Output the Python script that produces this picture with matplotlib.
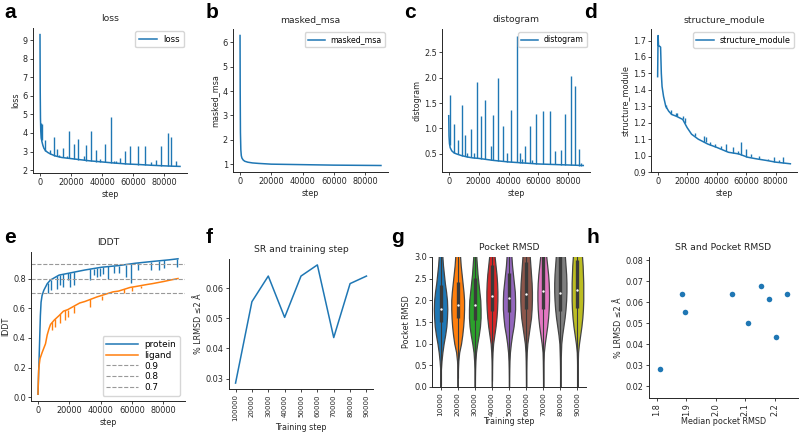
import matplotlib
matplotlib.use("Agg")
import matplotlib.pyplot as plt
import numpy as np

BLUE = "#1f77b4"
ORANGE = "#ff7f0e"
TXT = "#262626"

# ---------------- data ----------------
# a: loss
loss_steps = [0, 150, 300, 500, 800, 1200, 1800, 2500, 3500, 5000, 7000, 10000, 14000,
              20000, 26000, 32000, 40000, 48000, 56000, 64000, 72000, 80000, 86000, 90000]
loss_vals = [9.3, 6.2, 4.8, 4.1, 3.75, 3.55, 3.35, 3.18, 3.05, 2.95, 2.86, 2.76, 2.68,
             2.62, 2.56, 2.5, 2.44, 2.38, 2.33, 2.3, 2.26, 2.23, 2.21, 2.2]
# (step, floor, peak)
loss_spikes = [(800, 3.7, 4.55), (1100, 3.6, 4.5), (3300, 3.05, 3.6), (6400, 2.88, 3.10),
               (9100, 2.78, 3.78), (11000, 2.75, 3.14), (12500, 2.72, 2.8), (14700, 2.68, 3.21),
               (17200, 2.64, 2.78), (18800, 2.63, 4.11), (21900, 2.6, 3.42), (24500, 2.57, 3.70),
               (28000, 2.53, 2.78), (29700, 2.51, 3.37), (32800, 2.49, 4.09), (36100, 2.46, 3.10),
               (38800, 2.45, 2.60), (41800, 2.42, 3.42), (45400, 2.40, 4.87), (47800, 2.38, 2.50),
               (48900, 2.37, 2.47), (51300, 2.36, 2.66), (54400, 2.34, 3.03), (58100, 2.32, 3.28),
               (63300, 2.30, 3.31), (67800, 2.28, 3.31), (71100, 2.26, 2.43), (74800, 2.25, 2.53),
               (77900, 2.24, 3.28), (82000, 2.23, 3.99), (84300, 2.22, 3.78), (87400, 2.21, 2.50)]

# b: masked_msa
msa_steps = [0, 100, 250, 500, 800, 1200, 2000, 3000, 5000, 8000, 12000, 20000, 30000,
             40000, 50000, 60000, 70000, 80000, 90000]
msa_vals = [6.28, 4.0, 2.3, 1.6, 1.35, 1.25, 1.17, 1.12, 1.08, 1.05, 1.03, 1.0, 0.99,
            0.98, 0.97, 0.96, 0.955, 0.95, 0.945]

# c: distogram
dist_steps = [0, 200, 500, 1000, 2000, 3500, 5000, 8000, 12000, 16000, 20000, 30000, 40000,
              50000, 60000, 70000, 80000, 90000]
dist_vals = [1.25, 0.85, 0.7, 0.62, 0.56, 0.52, 0.5, 0.47, 0.44, 0.42, 0.41, 0.37, 0.34,
             0.32, 0.30, 0.29, 0.28, 0.27]
dist_spikes = [(700, 0.68, 1.65), (3300, 0.52, 1.09), (6400, 0.49, 0.77), (9100, 0.46, 1.46),
               (11000, 0.45, 0.88), (12500, 0.44, 0.51), (14700, 0.43, 0.98), (17200, 0.42, 0.52),
               (18800, 0.41, 1.91), (21900, 0.40, 1.25), (24500, 0.39, 1.56), (28000, 0.38, 0.65),
               (29700, 0.37, 1.26), (32800, 0.36, 1.99), (36100, 0.35, 1.05), (38800, 0.345, 0.52),
               (41800, 0.34, 1.37), (45400, 0.33, 2.83), (47800, 0.32, 0.51), (48900, 0.32, 0.40),
               (51300, 0.32, 0.65), (54400, 0.31, 1.05), (55500, 0.31, 0.38), (58100, 0.30, 1.29),
               (63300, 0.30, 1.34), (67800, 0.29, 1.34), (71100, 0.29, 0.56), (74800, 0.285, 0.57),
               (77900, 0.28, 1.29), (82000, 0.28, 2.03), (84300, 0.275, 1.84), (87400, 0.27, 0.6),
               (88200, 0.27, 0.32)]

# d: structure_module
sm_steps = [0, 300, 600, 2000, 2500, 3000, 4000, 5500, 7500, 9500, 12500, 17000, 20000, 23000,
            27500, 34000, 40000, 48000, 55000, 61000, 67000, 74000, 80000, 85000, 90000]
sm_vals = [1.48, 1.73, 1.67, 1.66, 1.50, 1.42, 1.36, 1.30, 1.27, 1.25, 1.24, 1.22, 1.17, 1.13,
           1.10, 1.07, 1.05, 1.02, 1.01, 0.99, 0.98, 0.97, 0.96, 0.955, 0.95]
sm_spikes = [(6000, 1.29, 1.31), (9100, 1.25, 1.28), (12300, 1.24, 1.26), (13200, 1.24, 1.26),
             (17000, 1.22, 1.24), (18600, 1.20, 1.23), (25300, 1.12, 1.14), (31300, 1.08, 1.12),
             (32700, 1.08, 1.11), (35800, 1.065, 1.08), (39000, 1.05, 1.07), (43200, 1.04, 1.06),
             (46400, 1.03, 1.07), (51200, 1.015, 1.05), (54700, 1.01, 1.03), (56200, 1.005, 1.08),
             (60000, 0.99, 1.04), (63200, 0.99, 1.01), (68400, 0.98, 1.0), (74700, 0.97, 0.98),
             (78900, 0.96, 0.99), (82000, 0.96, 0.97), (85200, 0.955, 0.99)]

# e: lDDT
prot_steps = [0, 870, 1520, 1960, 2600, 3700, 5900, 8000, 13500, 18900, 29800, 40700, 51500,
              62400, 73300, 84100, 89600]
prot_vals = [0.02, 0.32, 0.55, 0.64, 0.685, 0.72, 0.765, 0.79, 0.823, 0.834, 0.857, 0.876,
             0.887, 0.903, 0.915, 0.926, 0.933]
prot_spikes = [(6300, 0.77, 0.70), (8000, 0.79, 0.72), (12000, 0.82, 0.73), (14100, 0.825, 0.754),
               (16300, 0.83, 0.74), (19300, 0.834, 0.79), (20700, 0.836, 0.74), (23300, 0.845, 0.755),
               (33300, 0.863, 0.79), (35900, 0.867, 0.825), (37600, 0.87, 0.81), (39600, 0.874, 0.82),
               (41700, 0.877, 0.83), (45000, 0.881, 0.80), (48900, 0.884, 0.84), (51900, 0.887, 0.84),
               (56300, 0.894, 0.81), (59800, 0.9, 0.77), (64100, 0.905, 0.855), (72200, 0.914, 0.86),
               (77200, 0.919, 0.86), (80900, 0.922, 0.87), (88900, 0.932, 0.875)]
lig_steps = [0, 400, 800, 1300, 2600, 4800, 5900, 7000, 8000, 10400, 13500, 16300, 19000, 26700,
             30000, 37500, 40500, 48000, 51500, 59000, 62000, 70000, 73000, 80500, 84000, 89600]
lig_vals = [0.02, 0.18, 0.22, 0.26, 0.30, 0.36, 0.42, 0.46, 0.49, 0.52, 0.55, 0.58, 0.59, 0.635,
            0.645, 0.675, 0.685, 0.71, 0.715, 0.74, 0.745, 0.76, 0.765, 0.78, 0.788, 0.80]
lig_spikes = [(9000, 0.51, 0.45), (11000, 0.53, 0.47), (14000, 0.56, 0.50), (17500, 0.585, 0.52),
              (19500, 0.59, 0.54), (23000, 0.615, 0.57), (33500, 0.66, 0.61), (41000, 0.685, 0.655),
              (55000, 0.73, 0.70), (60000, 0.742, 0.715), (66000, 0.752, 0.735)]
lddt_refs = [0.9, 0.8, 0.7]

# f / g / h
train_labels = ["100000", "20000", "30000", "40000", "50000", "60000", "70000", "80000", "90000"]
step_labels = ["10000", "20000", "30000", "40000", "50000", "60000", "70000", "80000", "90000"]
success_rate = [0.0285, 0.0555, 0.064, 0.0503, 0.064, 0.0677, 0.0436, 0.0615, 0.064]
median_rmsd = [1.81, 1.895, 1.885, 2.11, 2.055, 2.155, 2.205, 2.18, 2.24]
q1_rmsd = [1.5, 1.6, 1.55, 1.75, 1.73, 1.8, 1.8, 1.75, 1.83]
q3_rmsd = [2.35, 2.42, 2.52, 2.82, 2.63, 2.88, 3.1, 3.1, 2.92]
whisk_lo = [0.05, 0.2, 0.0, 0.15, 0.0, 0.0, 0.0, 0.0, 0.0]
whisk_hi = [3.6, 3.6, 3.6, 3.6, 3.6, 3.6, 3.6, 3.6, 3.6]
violin_levels = [0, 0.2, 0.4, 0.6, 0.8, 1.0, 1.2, 1.4, 1.6, 1.8, 2.0, 2.2, 2.4, 2.6, 2.8, 3.0, 3.2]
violin_profiles = [
    [0.3, 0.5, 1, 3, 6, 10, 15, 19, 21, 22, 21, 18, 14, 11, 8, 6, 4],
    [0.0, 0.3, 0.8, 2, 5, 11, 15, 18, 20, 21, 21, 19, 16, 13, 10, 8, 6],
    [0.3, 0.5, 1, 2, 4, 8, 13, 17, 19, 19, 18, 15, 12, 9, 7, 5, 3],
    [0.0, 0.3, 0.6, 1, 2, 4, 8, 12, 15, 17, 18, 18, 17, 15, 12, 9, 7],
    [0.3, 0.5, 0.8, 1.5, 3, 6, 10, 15, 18, 20, 20, 19, 16, 13, 10, 8, 6],
    [0.3, 0.5, 0.8, 1.2, 2, 4, 8, 12, 16, 18, 19, 19, 18, 16, 14, 12, 10],
    [0.3, 0.5, 0.8, 1.2, 2, 5, 9, 13, 16, 18, 19, 19, 18, 16, 13, 10, 8],
    [0.3, 0.5, 0.8, 1.2, 2, 3, 6, 10, 14, 17, 19, 20, 20, 19, 17, 15, 13],
    [0.3, 0.5, 0.8, 1.2, 2, 5, 9, 13, 16, 18, 19, 19, 19, 18, 17, 15, 13],
]
violin_colors = ["#1f77b4", "#ff7f0e", "#2ca02c", "#d62728", "#9467bd",
                 "#8c564b", "#e377c2", "#7f7f7f", "#bcbd22"]

# ---------------- figure ----------------
W, H = 800, 433
fig = plt.figure(figsize=(W / 100, H / 100), dpi=100)
plt.rcParams["font.family"] = ["DejaVu Sans"]


def axpx(x0, y0, x1, y1):
    return fig.add_axes([x0 / W, 1 - y1 / H, (x1 - x0) / W, (y1 - y0) / H])


def style(ax, tick=5.9):
    for s in ["top", "right"]:
        ax.spines[s].set_visible(False)
    for s in ["left", "bottom"]:
        ax.spines[s].set_linewidth(0.7)
        ax.spines[s].set_color(TXT)
    ax.tick_params(labelsize=tick, length=2.2, width=0.6, pad=1.5, colors=TXT)


def curve(ax, steps, vals, spikes, color, label, lw=1.1):
    ax.plot(steps, vals, color=color, lw=lw, label=label)
    if spikes:
        s, f, p = zip(*spikes)
        ax.vlines(s, f, p, color=color, lw=lw * 0.9)


def labels(ax, title, xl, yl, ts=6.7, ls=5.8, xpad=2):
    ax.set_title(title, fontsize=ts, color=TXT, pad=5)
    ax.set_xlabel(xl, fontsize=ls, color=TXT, labelpad=xpad)
    ax.set_ylabel(yl, fontsize=ls, color=TXT, labelpad=2)


def leg(ax, loc="upper right", fs=5.8, hl=2.2, ls=0.35, bap=0.4):
    ax.legend(loc=loc, fontsize=fs, handlelength=hl, borderpad=0.4, labelspacing=ls,
              handletextpad=0.7, borderaxespad=bap, framealpha=0.8)


xt = [0, 20000, 40000, 60000, 80000]

# a
ax = axpx(33, 28, 187, 173)
style(ax)
curve(ax, loss_steps, loss_vals, loss_spikes, BLUE, "loss")
ax.set_xticks(xt)
ax.set_yticks(range(2, 10))
labels(ax, "loss", "step", "loss")
leg(ax, fs=6.2)

# b
ax = axpx(233, 29, 388, 172)
style(ax)
curve(ax, msa_steps, msa_vals, None, BLUE, "masked_msa")
ax.set_xticks(xt)
labels(ax, "masked_msa", "step", "masked_msa")
leg(ax, fs=5.6)

# c
ax = axpx(442, 29, 590, 172)
style(ax)
curve(ax, dist_steps, dist_vals, dist_spikes, BLUE, "distogram")
ax.set_xticks(xt)
ax.set_yticks([0.5, 1.0, 1.5, 2.0, 2.5])
labels(ax, "distogram", "step", "distogram")
leg(ax, fs=5.6)

# d
ax = axpx(651, 29, 797, 172)
style(ax)
curve(ax, sm_steps, sm_vals, sm_spikes, BLUE, "structure_module")
ax.set_xticks(xt)
ax.set_ylim(0.9, 1.77)
ax.set_yticks(np.arange(0.9, 1.71, 0.1))
labels(ax, "structure_module", "step", "structure_module")
leg(ax, fs=5.8)

# e
ax = axpx(31, 252, 185, 401)
style(ax)
curve(ax, prot_steps, prot_vals, prot_spikes, BLUE, "protein")
curve(ax, lig_steps, lig_vals, lig_spikes, ORANGE, "ligand")
for r in lddt_refs:
    ax.axhline(r, color="#999999", ls="--", lw=0.8, label=str(r))
ax.set_xticks(xt)
ax.set_yticks([0.0, 0.2, 0.4, 0.6, 0.8])
labels(ax, "lDDT", "step", "lDDT")
leg(ax, loc="lower right", fs=6.4, hl=3.6, ls=0.2, bap=0.6)

# f
ax = axpx(229, 259, 373, 389)
style(ax)
xpos = np.arange(len(train_labels))
ax.plot(xpos, success_rate, color=BLUE, lw=1.1)
ax.set_xticks(xpos)
ax.set_xticklabels(train_labels, rotation=90)
ax.tick_params(axis="x", labelsize=5.0)
ax.set_xlim(-0.4, 8.4)
ax.set_yticks([0.03, 0.04, 0.05, 0.06])
labels(ax, "SR and training step", "Training step", "% LRMSD ≤2 Å", xpad=1)

# g
ax = axpx(432, 257, 586, 387)
style(ax)
vp = []
for prof, med, lo in zip(violin_profiles, median_rmsd, whisk_lo):
    vp.append(dict(coords=np.array(violin_levels), vals=np.array(prof, float),
                   mean=med, median=med, min=lo, max=violin_levels[-1]))
widths = [2 * max(p) / 56 for p in violin_profiles]
parts = ax.violin(vp, positions=xpos, widths=widths, showmeans=False,
                  showextrema=False, showmedians=False)
for body, col in zip(parts["bodies"], violin_colors):
    body.set_facecolor(col)
    body.set_edgecolor("#444444")
    body.set_linewidth(0.9)
    body.set_alpha(1)
ax.vlines(xpos, whisk_lo, whisk_hi, color="#3a3a3a", lw=0.8, zorder=3)
ax.vlines(xpos, q1_rmsd, q3_rmsd, color="#3a3a3a", lw=2.4, zorder=3)
ax.scatter(xpos, median_rmsd, s=3, color="white", zorder=4, linewidths=0)
ax.set_ylim(0, 3.0)
ax.set_xlim(-0.5, 8.5)
ax.set_xticks(xpos)
ax.set_xticklabels(step_labels, rotation=90)
ax.tick_params(axis="x", labelsize=5.4)
ax.set_yticks([0.0, 0.5, 1.0, 1.5, 2.0, 2.5, 3.0])
labels(ax, "Pocket RMSD", "Training step", "Pocket RMSD", xpad=1)

# h
ax = axpx(649, 257, 798, 398)
style(ax)
ax.scatter(median_rmsd, success_rate, s=16, color=BLUE, linewidths=0)
ax.set_xlim(1.773, 2.279)
ax.set_ylim(0.0145, 0.0815)
ax.set_xticks([1.8, 1.9, 2.0, 2.1, 2.2])
ax.tick_params(axis="x", labelrotation=90)
ax.set_yticks([0.02, 0.03, 0.04, 0.05, 0.06, 0.07, 0.08])
labels(ax, "SR and Pocket RMSD", "Median pocket RMSD", "% LRMSD ≤2 Å", xpad=1)

# panel letters
for ch, x, y in [("a", 4, 3), ("b", 206, 3), ("c", 404, 3), ("d", 584, 3),
                 ("e", 4, 228), ("f", 206, 228), ("g", 391, 228), ("h", 587, 228)]:
    fig.text(x / W, 1 - y / H, ch, fontsize=15, fontweight="bold",
             family="Liberation Sans", va="top", ha="left", color="black")

fig.savefig("out.png", dpi=100)
